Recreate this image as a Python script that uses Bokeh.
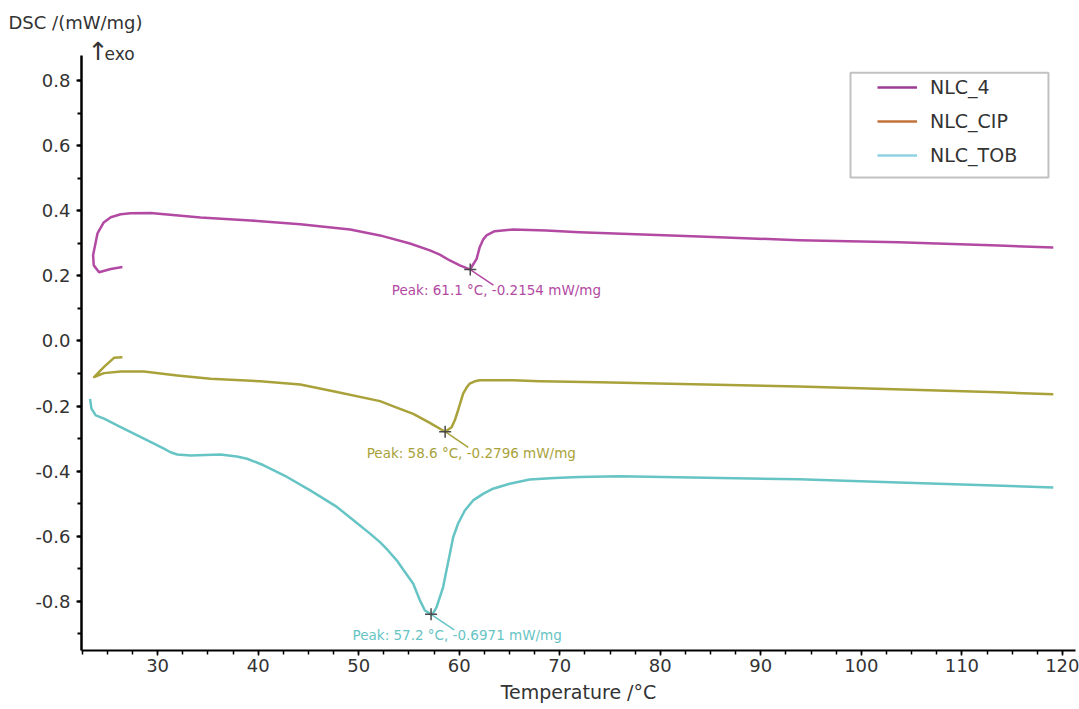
from bokeh.plotting import figure
from bokeh.models import (Range1d, SingleIntervalTicker, PrintfTickFormatter, Legend,
                          LegendItem, Label, BoxAnnotation)
from bokeh.embed import file_html
from bokeh.resources import INLINE
from bokeh.core.properties import value

# ---------------- data ----------------
series_names = ["NLC_4", "NLC_CIP", "NLC_TOB"]

nlc4_temp = [26.50, 25.34, 24.18, 23.65, 23.58, 24.02, 24.64, 25.34, 26.33, 27.32, 29.31,
             34.27, 39.23, 44.19, 49.15, 52.12, 55.10, 57.08, 58.07, 59.07, 60.06, 61.1,
             61.23, 61.73, 62.04, 62.37, 62.71, 63.53, 65.35, 68.66, 71.96, 83.87, 93.79,
             103.71, 113.63, 119.09]
nlc4_dsc = [0.227, 0.221, 0.211, 0.232, 0.263, 0.330, 0.364, 0.380, 0.389, 0.392, 0.393,
            0.379, 0.370, 0.358, 0.342, 0.324, 0.299, 0.278, 0.265, 0.247, 0.232, 0.219,
            0.227, 0.252, 0.288, 0.311, 0.324, 0.337, 0.342, 0.339, 0.334, 0.321, 0.309,
            0.303, 0.293, 0.287]

cip_temp = [26.50, 25.66, 24.67, 23.68, 24.67, 26.33, 28.64, 31.95, 35.26, 40.22, 44.19,
            47.83, 52.12, 53.78, 55.43, 57.08, 58.6, 59.24, 59.56, 59.89, 60.13, 60.39,
            60.72, 61.05, 61.55, 62.04, 65.35, 68.00, 73.95, 93.79, 113.63, 119.09]
cip_dsc = [-0.050, -0.052, -0.080, -0.111, -0.099, -0.094, -0.094, -0.106, -0.116, -0.124,
           -0.134, -0.157, -0.185, -0.205, -0.224, -0.252, -0.279, -0.265, -0.244, -0.213,
           -0.188, -0.162, -0.144, -0.131, -0.124, -0.121, -0.121, -0.124, -0.127, -0.140,
           -0.158, -0.164]

tob_temp = [23.28, 23.42, 23.85, 24.67, 26.33, 28.64, 30.63, 31.29, 31.95, 33.27, 36.25,
            37.87, 38.90, 40.55, 42.87, 45.18, 47.83, 49.48, 51.13, 52.12, 52.90, 53.78,
            54.60, 55.43, 56.09, 56.59, 57.2, 57.41, 57.75, 58.40, 58.73, 59.07, 59.40,
            59.89, 60.56, 61.38, 62.37, 63.36, 65.02, 67.00, 69.48, 71.96, 75.93, 93.79,
            103.71, 119.09]
tob_dsc = [-0.178, -0.208, -0.229, -0.239, -0.265, -0.300, -0.331, -0.342, -0.349, -0.352,
           -0.349, -0.355, -0.362, -0.382, -0.418, -0.459, -0.510, -0.551, -0.592, -0.618,
           -0.643, -0.674, -0.710, -0.746, -0.797, -0.828, -0.840, -0.836, -0.818, -0.756,
           -0.705, -0.654, -0.603, -0.561, -0.521, -0.490, -0.470, -0.454, -0.439, -0.426,
           -0.421, -0.418, -0.416, -0.425, -0.435, -0.450]

peak_temp = [61.1, 58.6, 57.2]
peak_dsc = [0.219, -0.279, -0.840]
peak_text = ["Peak: 61.1 \u00b0C, -0.2154 mW/mg",
             "Peak: 58.6 \u00b0C, -0.2796 mW/mg",
             "Peak: 57.2 \u00b0C, -0.6971 mW/mg"]

# ---------------- styles ----------------
curve_colors = ["#b24aa3", "#a9a23a", "#67c4c4"]
legend_colors = ["#9c3b94", "#c2733a", "#8fd2e4"]
FONT = "DejaVu Sans"
TXT = "#333333"

Y_START, Y_AXIS_TOP, Y_END = -0.951, 0.877, 0.935

p = figure(width=1079, height=709, output_backend="svg", toolbar_location=None,
           x_range=Range1d(22.43, 121.3), y_range=Range1d(Y_START, Y_END),
           min_border_left=81, min_border_right=4, min_border_top=36, min_border_bottom=59,
           title="DSC /(mW/mg)")
p.outline_line_color = None
p.xgrid.visible = False
p.ygrid.visible = False
p.background_fill_color = "white"
p.border_fill_color = "white"

p.title.align = "left"
p.title.offset = -73
p.title.standoff = 7
p.title.text_font = FONT
p.title.text_font_size = "18px"
p.title.text_font_style = "normal"
p.title.text_color = TXT

# axes
p.xaxis.ticker = SingleIntervalTicker(interval=10, num_minor_ticks=4)
p.yaxis.ticker = SingleIntervalTicker(interval=0.2, num_minor_ticks=2)
p.yaxis.formatter = PrintfTickFormatter(format="%.1f")
p.yaxis.bounds = (Y_START, Y_AXIS_TOP)
for ax in (p.xaxis, p.yaxis):
    ax.axis_line_color = "black"
    ax.major_tick_line_color = "black"
    ax.minor_tick_line_color = "black"
    ax.major_tick_in = 0
    ax.minor_tick_in = 0
    ax.major_tick_out = 5
    ax.minor_tick_out = 4
    ax.major_label_text_font = FONT
    ax.major_label_text_font_size = "18px"
    ax.major_label_text_color = TXT
p.yaxis.axis_line_width = 2.5
p.yaxis.major_tick_line_width = 2
p.yaxis.minor_tick_line_width = 2
p.xaxis.axis_line_width = 2
p.xaxis.major_tick_line_width = 1.5
p.xaxis.minor_tick_line_width = 1.5
p.yaxis.major_label_standoff = 6
p.xaxis.major_label_standoff = 3
p.xaxis.axis_label = "Temperature /\u00b0C"
p.xaxis.axis_label_text_font = FONT
p.xaxis.axis_label_text_font_size = "19px"
p.xaxis.axis_label_text_font_style = "normal"
p.xaxis.axis_label_text_color = TXT
p.xaxis.axis_label_standoff = 6

# curves
p.line(nlc4_temp, nlc4_dsc, line_color=curve_colors[0], line_width=2.5, line_join="round")
p.line(cip_temp, cip_dsc, line_color=curve_colors[1], line_width=2.5, line_join="round")
p.line(tob_temp, tob_dsc, line_color=curve_colors[2], line_width=2.5, line_join="round")

# peak leader lines, markers and texts
lead_dx, lead_dy = 2.3, -0.048
p.segment(x0=peak_temp, y0=peak_dsc,
          x1=[t + lead_dx for t in peak_temp], y1=[d + lead_dy for d in peak_dsc],
          line_color=curve_colors, line_width=1.5)
p.scatter(peak_temp, peak_dsc, marker="cross", size=12, line_color="#4a4a4a", line_width=1.5)
p.text(x=[t + 2.6 for t in peak_temp], y=[d - 0.064 for d in peak_dsc], text=peak_text,
       text_color=curve_colors, text_font=value(FONT), text_font_size=value("13.5px"),
       text_align="center", text_baseline="middle")

# legend (box + borderless legend, swatch colours as in the original legend)
box = BoxAnnotation(left=98.92, right=118.61, top=0.824, bottom=0.502,
                    fill_color="white", fill_alpha=1.0, line_color="#333333", line_width=2,
                    level="annotation")
p.add_layout(box)
# legend-only renderers: a single point placed outside the visible x range
leg_renderers = [p.line(x=[0, 0], y=[0, 0], line_color=c, line_width=2.5) for c in legend_colors]
legend = Legend(items=[LegendItem(label=n, renderers=[r]) for n, r in zip(series_names, leg_renderers)],
                location=(791, 479), orientation="vertical",
                border_line_alpha=0, background_fill_alpha=0,
                padding=5, spacing=12, glyph_width=40, glyph_height=20, label_height=20,
                label_standoff=13, label_text_font=FONT, label_text_font_size="19px",
                label_text_color=TXT, margin=0)
p.add_layout(legend, "center")

# "↑ exo" marker above the y axis
p.add_layout(Label(x=23.05, y=0.889, text="\u2191", text_font=FONT,
                   text_font_size="25px", text_color=TXT, text_baseline="middle"))
p.add_layout(Label(x=24.72, y=0.882, text="exo", text_font=FONT,
                   text_font_size="17px", text_color=TXT, text_baseline="middle"))

open("out.html", "w").write(file_html(p, INLINE))
